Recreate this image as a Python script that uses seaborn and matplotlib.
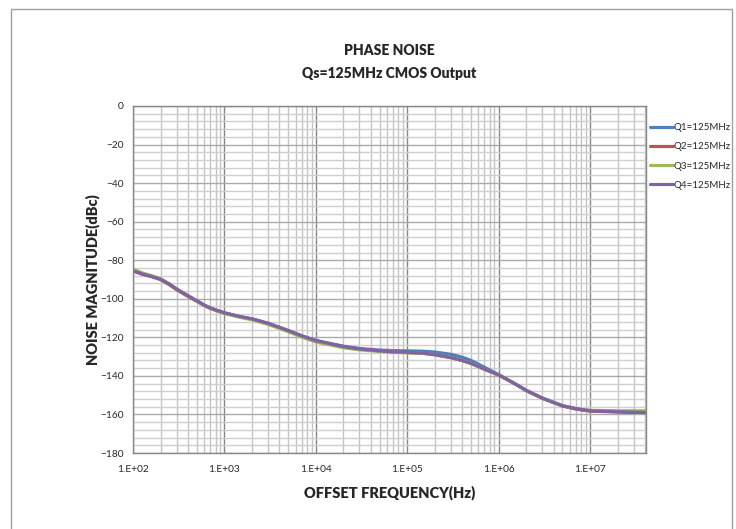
import numpy as np
import pandas as pd
import matplotlib.pyplot as plt
import matplotlib.ticker as mticker
from matplotlib.patches import Rectangle
import seaborn as sns

freq = [100, 130, 160, 200, 250, 300, 400, 500, 600, 700, 850, 1000, 1500, 2000, 3000,
        5000, 7000, 1e4, 2e4, 3e4, 5e4, 7e4, 1e5, 1.5e5, 2e5, 3e5, 4e5, 5e5,
        7e5, 1e6, 1.5e6, 2e6, 3e6, 5e6, 7e6, 1e7, 2e7, 4e7]
q1 = [-85.5, -87.3, -88.4, -89.9, -92.4, -94.9, -98.4, -101.0, -103.2, -104.7, -106.2, -107.3,
      -109.3, -110.4, -112.7, -116.5, -119.2, -121.6, -124.6, -125.8, -126.6, -126.9,
      -127.0, -127.2, -127.6, -128.8, -130.3, -132.0, -135.5, -139.3, -144.0, -147.5,
      -151.5, -155.5, -157.0, -158.0, -158.5, -158.8]
q2 = [-85.6, -87.4, -88.5, -90.0, -92.7, -95.3, -98.8, -101.3, -103.4, -104.9, -106.3, -107.4,
      -109.4, -110.5, -112.9, -116.7, -119.4, -121.9, -124.9, -126.1, -127.1, -127.6,
      -127.9, -128.3, -129.0, -130.5, -132.0, -133.5, -136.5, -139.5, -144.0, -147.6,
      -151.6, -155.6, -157.2, -158.3, -158.7, -159.0]
q3 = [-84.6, -86.8, -88.0, -89.6, -92.2, -94.9, -98.5, -101.2, -103.5, -105.0, -106.5, -107.6,
      -109.7, -110.9, -113.3, -117.1, -119.9, -122.4, -125.4, -126.5, -127.3, -127.7,
      -128.0, -128.3, -129.0, -130.5, -132.0, -133.5, -136.5, -139.5, -144.0, -147.5,
      -151.5, -155.4, -157.0, -157.9, -158.1, -158.1]
q4 = [-85.5, -87.3, -88.4, -89.9, -92.4, -95.0, -98.5, -101.1, -103.3, -104.8, -106.2, -107.3,
      -109.3, -110.4, -112.7, -116.5, -119.2, -121.7, -124.8, -126.0, -127.0, -127.5,
      -127.8, -128.2, -129.0, -130.5, -132.0, -133.5, -136.5, -139.5, -144.0, -147.5,
      -151.5, -155.5, -157.0, -158.1, -158.6, -159.0]
names = ['Q1=125MHz', 'Q2=125MHz', 'Q3=125MHz', 'Q4=125MHz']
colors = ['#4F81BD', '#C0504D', '#9BBB59', '#8064A2']

df = pd.concat([pd.DataFrame({'freq': freq, 'noise': v, 'series': n})
                for v, n in zip([q1, q2, q3, q4], names)])

sns.set_style('white')
plt.rcParams['font.family'] = ['Lato', 'DejaVu Sans']

fig = plt.figure(figsize=(7.36, 5.29), dpi=100)
ax = fig.add_axes([133 / 736, 1 - 453 / 529, 513 / 736, 347 / 529])

sns.lineplot(data=df, x='freq', y='noise', hue='series', palette=colors,
             linewidth=2.3, ax=ax, sort=False)

ax.set_xscale('log')
ax.set_xlim(100, 4.1e7)
ax.set_ylim(-180, 0)
ax.yaxis.set_major_locator(mticker.MultipleLocator(20))
ax.yaxis.set_minor_locator(mticker.MultipleLocator(4))
ax.xaxis.set_major_locator(mticker.LogLocator(base=10, numticks=10))
ax.xaxis.set_minor_locator(mticker.LogLocator(base=10, subs=np.arange(2, 10), numticks=20))
ax.xaxis.set_major_formatter(mticker.FuncFormatter(lambda v, p: '1.E+%02d' % round(np.log10(v))))
ax.xaxis.set_minor_formatter(mticker.NullFormatter())

ax.grid(True, which='major', axis='x', color='#878787', linewidth=1)
ax.grid(True, which='minor', axis='x', color='#C4C4C4', linewidth=1)
ax.grid(True, which='major', axis='y', color='#AAAAAA', linewidth=1)
ax.grid(True, which='minor', axis='y', color='#CFCFCF', linewidth=1)
ax.set_axisbelow(True)
for s in ax.spines.values():
    s.set_color('#868686')
    s.set_linewidth(1)
ax.tick_params(axis='both', which='major', length=3, color='#868686', labelsize=7.3, pad=4)
ax.tick_params(axis='both', which='minor', length=0)
ax.tick_params(axis='x', pad=6)

ax.set_xlabel('OFFSET FREQUENCY(Hz)', fontsize=10.5, fontweight='heavy', labelpad=8)
ax.set_ylabel('NOISE MAGNITUDE(dBc)', fontsize=10.5, fontweight='heavy', labelpad=0)
ax.set_title('PHASE NOISE\nQs=125MHz CMOS Output', fontsize=10, fontweight='heavy',
             pad=20, linespacing=1.95)

leg = ax.legend(loc='upper left', bbox_to_anchor=(0.995, 0.97), frameon=False, fontsize=7,
                handlelength=2.3, handletextpad=0.1, labelspacing=1.05, borderaxespad=0.3)
for line in leg.get_lines():
    line.set_linewidth(2.3)

fig.patches.append(Rectangle((11 / 736, -0.1), 721 / 736, 1.1 - 9 / 529, transform=fig.transFigure,
                             fill=False, edgecolor='#A0A0A0', linewidth=1))

fig.savefig('out.png', dpi=100)
